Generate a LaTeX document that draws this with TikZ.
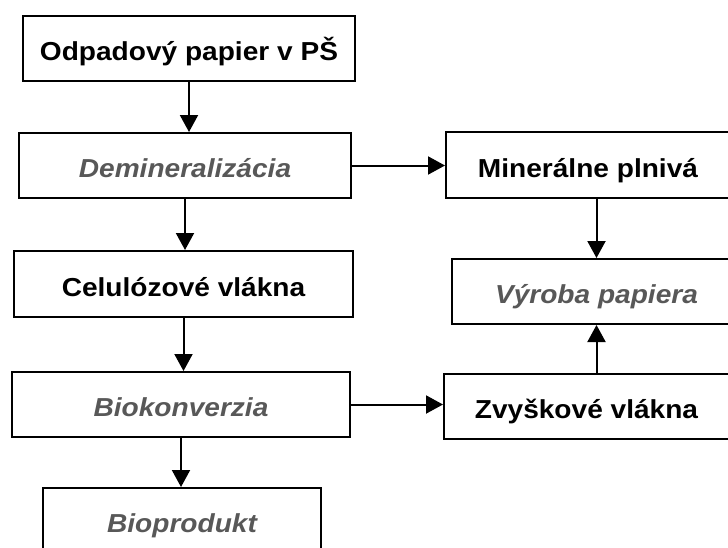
\documentclass[tikz,border=0pt]{standalone}
\usepackage{fontspec}
\newfontfamily\boxfont{Liberation Sans}[FakeStretch=1.08]
\usetikzlibrary{arrows.meta}
\definecolor{procgray}{RGB}{88,88,88}
\tikzset{
  every picture/.style={font={\boxfont\fontsize{26}{30}\selectfont\bfseries},
    >={Triangle[length=17pt,width=18pt]}},
  every node/.style={inner sep=0pt}}

\begin{document}
\begin{tikzpicture}[
    x=1pt, y=-1pt,
    flowbox/.style={
      draw,
      line width=2pt,
      anchor=north west,
      minimum height=65pt,
      text height=24pt,
      text depth=0pt},
    procbox/.style={
      flowbox,
      text=procgray,
      font={\boxfont\fontsize{26}{30}\selectfont\bfseries\itshape}},
    flow/.style={->, line width=2pt}]

    \useasboundingbox (0,0) rectangle (728,547);
    \clip (0,0) rectangle (728,547);

    % left column
    \node[flowbox, minimum width=332pt] (odpad) at (22,15) {Odpadový papier v PŠ};
    \node[procbox, minimum width=332pt] (demin) at (18,132) {Demineralizácia};
    \node[flowbox, minimum width=339pt, minimum height=66pt] (celul) at (13,250) {Celulózové vlákna};
    \node[procbox, minimum width=338pt] (biokon) at (11,371) {Biokonverzia};
    \node[procbox, minimum width=278pt] (bioprod) at (42,487) {Bioprodukt};

    % right column
    \node[flowbox, minimum width=284pt, minimum height=66pt] (miner) at (445,131) {Minerálne plnivá};
    \node[procbox, minimum width=289pt] (vyroba) at (451,258) {Výroba papiera};
    \node[flowbox, minimum width=285pt] (zvysk) at (443,373) {Zvyškové vlákna};

    \draw[flow] (odpad.south) -- (odpad.south |- demin.north);
    \draw[flow] (demin.south) -- (demin.south |- celul.north);
    \draw[flow] (celul.south) -- (celul.south |- biokon.north);
    \draw[flow] (biokon.south) -- (biokon.south |- bioprod.north);

    \draw[flow] (demin.east) -- (demin.east -| miner.west);
    \draw[flow] (biokon.east) -- (biokon.east -| zvysk.west);

    \draw[flow] (vyroba.north |- miner.south) -- (vyroba.north);
    \draw[flow] (zvysk.north -| vyroba.south) -- (vyroba.south);
  \end{tikzpicture}
\end{document}
